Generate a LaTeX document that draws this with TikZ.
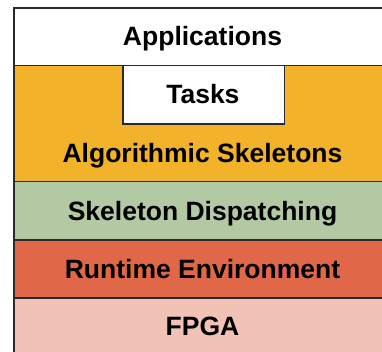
\documentclass[tikz,border=0pt]{standalone}
\usepackage{fontspec}
\setmainfont{Liberation Sans}
\definecolor{skelorange}{HTML}{F2B22A}
\definecolor{dispgreen}{HTML}{B3C9A3}
\definecolor{rtred}{HTML}{E06848}
\definecolor{fpgapink}{HTML}{F1C3B7}
\definecolor{edgegray}{HTML}{2A2A2A}
\begin{document}
\begin{tikzpicture}[x=1pt,y=-1pt,
  layerbox/.style={draw=edgegray,line width=1.5pt,rectangle,inner sep=0pt,anchor=north west,minimum width=379pt},
  lbl/.style={font=\fontsize{26.5}{31}\selectfont\bfseries,anchor=base,inner sep=0pt}]
\useasboundingbox (0,0) rectangle (382,351);
\clip (0,0) rectangle (382,351);
\node[layerbox,fill=white,minimum height=57.5pt] (apps) at (13,7) {};
\node[lbl] (appsT) at (202.5,45.7) {Applications};
\node[layerbox,fill=skelorange,minimum height=116pt] (algo) at (13,64.5) {};
\node[layerbox,fill=white,minimum width=161.7pt,minimum height=58.8pt] (tasks) at (122,64.5) {};
\node[lbl] (tasksT) at (202.9,103.3) {Tasks};
\node[lbl] (algoT) at (202.5,162) {Algorithmic Skeletons};
\node[layerbox,fill=dispgreen,minimum height=58.5pt] (disp) at (13,180.5) {};
\node[lbl] (dispT) at (202.5,220.7) {Skeleton Dispatching};
\node[layerbox,fill=rtred,minimum height=58pt] (rt) at (13,239) {};
\node[lbl] (rtT) at (202.5,278.3) {Runtime Environment};
\node[layerbox,fill=fpgapink,minimum height=60pt] (fpga) at (13,297) {};
\node[lbl] (fpgaT) at (202.5,335.7) {FPGA};
\end{tikzpicture}
\end{document}
